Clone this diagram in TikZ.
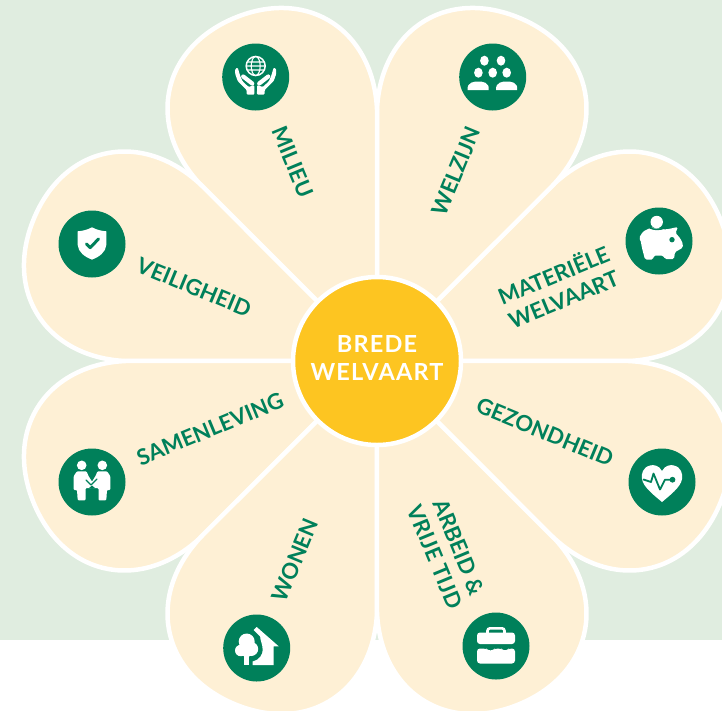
\documentclass[tikz,border=0pt]{standalone}
\usepackage{fontspec}
\setmainfont{Lato}
\definecolor{bgreen}{HTML}{E0EDE0}
\definecolor{cream}{HTML}{FEF0D5}
\definecolor{dgreen}{HTML}{00805A}
\definecolor{gold}{HTML}{FDC521}
\newcommand{\petal}[1]{%
  \begin{scope}[shift={(377,-361)},rotate=#1]
  \fill[cream,draw=white,line width=4.5pt,line join=round]
    (0,0) -- (226,93.8) .. controls (303,125.5) and (371.5,82) .. (371.5,0)
    .. controls (371.5,-82) and (303,-125.5) .. (226,-93.8) -- cycle;
  \end{scope}}
\tikzset{
  iconbg/.style={circle,fill=dgreen,minimum size=67pt,inner sep=0pt},
  lab/.style={text=dgreen,font=\fontsize{22}{26}\selectfont\bfseries,align=center,inner sep=0pt},
  gline/.style={draw=dgreen,line width=1.8pt,line cap=round,line join=round}
}
\begin{document}
\begin{tikzpicture}[x=1pt,y=1pt]
\useasboundingbox (0,-710) rectangle (722,0);
\clip (0,-710) rectangle (722,0);
\fill[bgreen] (0,-640) rectangle (722,0);
\foreach \a in {22.5,67.5,...,337.5} {\petal{\a}}
\node[circle,fill=gold,draw=white,line width=4.5pt,minimum size=168pt,inner sep=0pt] (hub) at (377,-361) {};
\node[text=white,align=center,inner sep=0pt,font=\fontsize{23.5}{28}\selectfont\bfseries] (hubtext) at (377,-358) {\addfontfeature{LetterSpace=5}BREDE\\\addfontfeature{LetterSpace=5}WELVAART};
% labels
\node[lab,rotate=-67.5] (milieu) at (293,-162) {MILIEU};
\node[lab,rotate=67.5] (welzijn) at (456,-171) {WELZIJN};
\node[lab,rotate=22.5] (materiele) at (558,-286) {MATERIËLE\\WELVAART};
\node[lab,rotate=-22.5] (veiligheid) at (194,-287) {VEILIGHEID};
\node[lab,rotate=22.5] (samen) at (210,-429) {SAMENLEVING};
\node[lab,rotate=-22.5] (gezond) at (545,-432) {GEZONDHEID};
\node[lab,rotate=67.5] (wonen) at (295,-560) {WONEN};
\node[lab,rotate=-67.5] (arbeid) at (447,-552) {ARBEID \&\\VRIJE TIJD};
% icon discs
\node[iconbg] (imilieu) at (255.7,-77) {};
\node[iconbg] (iwelzijn) at (492.7,-77) {};
\node[iconbg] (ipig) at (659,-241) {};
\node[iconbg] (ishield) at (92,-244) {};
\node[iconbg] (ihands) at (92,-482) {};
\node[iconbg] (iheart) at (662,-482) {};
\node[iconbg] (ihouse) at (256.7,-648) {};
\node[iconbg] (icase) at (496,-646) {};
% globe and hands
\begin{scope}[shift={(imilieu.center)}]
  \draw[white,line width=1.5pt] (0,11) circle (9.5);
  \draw[white,line width=1.1pt] (0,11) ellipse (4.5 and 9.5) (-9.5,11) -- (9.5,11) (-8.5,15) -- (8.5,15) (-8.5,7) -- (8.5,7);
  \foreach \s in {1,-1} {
    \begin{scope}[xscale=\s]
      \fill[white,rounded corners=1pt] (-20.5,8) -- (-18,9.5) -- (-15.5,1) -- (-13,-4.5) -- (-7,-10) -- (-1.5,-8) -- (-1.2,-17.5) -- (-9,-17.5) -- (-9,-13) -- (-18,-4) -- (-20.5,3) -- cycle;
      \draw[white,line width=4.2pt,line cap=round] (-12.5,0.5) -- (-3.5,-6.5);
    \end{scope}}
\end{scope}
% people
\begin{scope}[shift={(iwelzijn.center)}]
  \foreach \p in {(-8.3,16.3),(8.3,16.3),(-14.3,4.3),(0,4.3),(14,4.3)} {\fill[white] \p ellipse (4.3 and 5);}
  \foreach \xx in {-14.5,14} {
    \fill[white] (\xx-10.5,-13) .. controls (\xx-11.5,-5) and (\xx-4,-4.5) .. (\xx,-4.5) .. controls (\xx+4,-4.5) and (\xx+11.5,-5) .. (\xx+10.5,-13) -- cycle;}
\end{scope}
% piggy bank
\begin{scope}[shift={(ipig.center)}]
  \fill[white] (-2.3,19) circle (6.2);
  \fill[white,rounded corners=1.5pt] (-20,3) -- (-16,9.5) -- (-8,13.5) -- (7,11.5) -- (19,14) -- (16.5,8) -- (21,3) -- (24,-3) -- (23.5,-7) -- (16,-11) -- (15,-18) -- (6,-18) -- (4,-14.5) -- (-5,-14.5) -- (-6,-18.5) -- (-14,-18.5) -- (-17,-7) -- (-18.5,1) -- cycle;
  \draw[dgreen,line width=1.5pt] (-10,13.5) .. controls (-5,11) and (0,11) .. (6,13);
  \fill[dgreen] (13,1.3) circle (2.7);
\end{scope}
% shield
\begin{scope}[shift={(ishield.center)}]
  \fill[white] (0,16.7) .. controls (5,14) and (10,13) .. (14.3,12.7) -- (14.3,-1) .. controls (14,-8) and (7,-13) .. (0,-15.7) .. controls (-7,-13) and (-14,-8) .. (-14.3,-1) -- (-14.3,12.7) .. controls (-10,13) and (-5,14) .. cycle;
  \draw[dgreen,line width=3pt,line cap=round,line join=round] (-5.5,0) -- (-1.8,-3.6) -- (6.5,5);
\end{scope}
% two people clasping hands
\begin{scope}[shift={(ihands.center)}]
  \foreach \s in {1,-1} {
    \begin{scope}[xscale=\s]
      \fill[white] (-10.3,16.7) circle (4.8);
      \fill[white,rounded corners=1pt] (-18.3,6) -- (-15,10.7) -- (-5.5,10.7) -- (-3.5,6) -- (0.3,0) -- (0.3,-6) -- (-6.5,-6) -- (-6.5,-18.3) -- (-14.3,-18.3) -- (-15,-8) -- (-18.3,-8) -- cycle;
    \end{scope}}
  \draw[gline,line width=1.1pt] (-6,2) -- (-1,-3) -- (5,3);
  \fill[dgreen] (-3.2,-6.2) -- (0,-3.5) -- (3.2,-6.2) -- cycle;
\end{scope}
% heart
\begin{scope}[shift={(iheart.center)}]
  \fill[white] (0,11) .. controls (3,17) and (9,17.5) .. (12,16.5) .. controls (19,15) and (21,8) .. (20,3) .. controls (19,-5) and (7,-14) .. (0,-20) .. controls (-7,-14) and (-19,-5) .. (-20,3) .. controls (-21,8) and (-19,15) .. (-12,16.5) .. controls (-9,17.5) and (-3,17) .. cycle;
  \draw[gline] (-18.5,2.5) -- (-11,0) -- (-8.5,8.5) -- (-2,-7.5) -- (3,2.3) -- (10,2.3);
  \fill[dgreen] (10.5,2.3) circle (2.9);
\end{scope}
% tree and house
\begin{scope}[shift={(ihouse.center)}]
  \fill[white] (-3,18) -- (0,21) -- (22,1.7) -- (17,1.7) -- (17,-17) -- (-4,-17) -- (-4,-13.5) .. controls (3,-12) and (6,-6) .. (6,-2) .. controls (6,4) and (3,9) .. (3.5,11.5) -- cycle;
  \fill[white] (-10,6.5) circle (8) (-16,-2.5) circle (5.7) (-5.5,-1) circle (7) (-10,-3) circle (6);
  \fill[white] (-12.3,-17) rectangle (-7.7,-5);
\end{scope}
% briefcase
\begin{scope}[shift={(icase.center)}]
  \draw[white,line width=2.6pt,rounded corners=2.5pt] (-8.5,12) -- (-8.5,17.7) -- (8.5,17.7) -- (8.5,12);
  \fill[white,rounded corners=3pt] (-19,2) rectangle (19,13.5);
  \fill[white,rounded corners=3pt] (-19,-17.5) -- (-19,-2.5) -- (-10,-2.5) -- (-8,-4.5) -- (-3,-4.5) -- (-1,-2.5) -- (5,-2.5) -- (7,-4.5) -- (11,-4.5) -- (13,-2.5) -- (19,-2.5) -- (19,-17.5) -- cycle;
\end{scope}
\end{tikzpicture}
\end{document}
